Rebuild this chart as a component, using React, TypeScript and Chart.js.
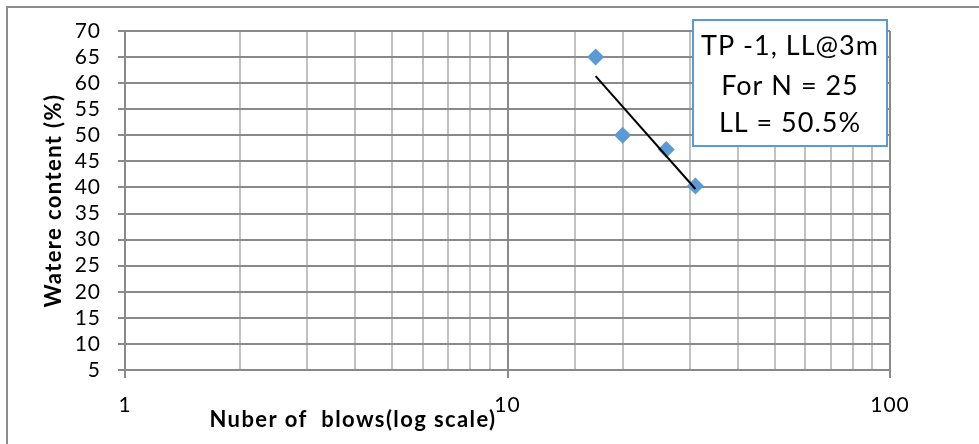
import React, { useEffect, useRef } from 'react';
import { Chart, registerables } from 'chart.js';

Chart.register(...registerables);

// Liquid limit test: number of blows vs. water content
const blows = [17, 20, 26, 31];
const waterContent = [65, 50, 47.3, 40.3];

// Axis ranges and labelled decades
const yMin = 5;
const yMax = 70;
const yStep = 5;
const xMin = 1;
const xMax = 100;
const xMajorLabels = [1, 10, 100];

const noteLines = ['TP -1, LL@3m', 'For N = 25', 'LL = 50.5%'];
const xTitle = 'Nuber of  blows(log scale)';
const yTitle = 'Watere content (%)';

const FONT = 'Lato, "Open Sans", sans-serif';
const MARKER = '#5B9BD5';
const GRID_DARK = '#8a8a8a';
const GRID_LIGHT = '#c2c2c2';

// Logarithmic least-squares trendline: y = a + b ln(x)
function logFit(xs: number[], ys: number[]) {
  const lx = xs.map((v) => Math.log(v));
  const n = xs.length;
  const mx = lx.reduce((s, v) => s + v, 0) / n;
  const my = ys.reduce((s, v) => s + v, 0) / n;
  let sxy = 0;
  let sxx = 0;
  for (let i = 0; i < n; i++) {
    sxy += (lx[i] - mx) * (ys[i] - my);
    sxx += (lx[i] - mx) * (lx[i] - mx);
  }
  const b = sxy / sxx;
  const a = my - b * mx;
  return (x: number) => a + b * Math.log(x);
}

const isDecade = (v: number) => Math.abs(Math.log10(v) - Math.round(Math.log10(v))) < 1e-9;

const decorPlugin = {
  id: 'decor',
  beforeDraw(chart: any) {
    const { ctx, width, height } = chart;
    ctx.save();
    ctx.fillStyle = '#ffffff';
    ctx.fillRect(0, 0, width, height);
    // chart frame (only its top and left edges fall inside the canvas)
    ctx.strokeStyle = '#8c8c8c';
    ctx.lineWidth = 2;
    ctx.beginPath();
    ctx.moveTo(7, height + 2);
    ctx.lineTo(7, 7);
    ctx.lineTo(width + 2, 7);
    ctx.stroke();
    ctx.restore();
    // slightly open tracking for the tick labels
    ctx.letterSpacing = '1px';
  },
  afterDraw(chart: any) {
    const { ctx, chartArea } = chart;
    ctx.save();

    // axis titles
    ctx.fillStyle = '#000';
    ctx.font = `bold 22px ${FONT}`;
    ctx.letterSpacing = '1.4px';
    ctx.textAlign = 'center';
    ctx.textBaseline = 'alphabetic';
    ctx.fillText(xTitle, chartArea.left + 228, 427);

    ctx.save();
    ctx.translate(61, (chartArea.top + chartArea.bottom) / 2);
    ctx.rotate(-Math.PI / 2);
    ctx.fillText(yTitle, 0, 0);
    ctx.restore();

    // annotation box
    const bx = chartArea.right - 197;
    const by = chartArea.top - 11;
    const bw = 194;
    const bh = 126;
    ctx.fillStyle = '#ffffff';
    ctx.fillRect(bx, by, bw, bh);
    ctx.strokeStyle = MARKER;
    ctx.lineWidth = 2;
    ctx.strokeRect(bx, by, bw, bh);
    ctx.fillStyle = '#000';
    ctx.font = `27px ${FONT}`;
    ctx.letterSpacing = '1px';
    ctx.textAlign = 'center';
    const baselines = [35, 75, 112];
    noteLines.forEach((t, i) => ctx.fillText(t, bx + bw / 2, by + baselines[i]));

    ctx.restore();
    ctx.letterSpacing = '0px';
  },
};

export default function App() {
  const canvasRef = useRef<HTMLCanvasElement | null>(null);

  useEffect(() => {
    document.body.style.margin = '0';
    const canvas = canvasRef.current;
    if (!canvas) return;

    const fit = logFit(blows, waterContent);
    const lo = Math.min(...blows);
    const hi = Math.max(...blows);
    const trend = [
      { x: lo, y: fit(lo) },
      { x: hi, y: fit(hi) },
    ];
    const points = blows.map((x, i) => ({ x, y: waterContent[i] }));

    const chart = new Chart(canvas, {
      type: 'scatter',
      data: {
        datasets: [
          {
            type: 'line',
            data: trend,
            borderColor: '#000',
            borderWidth: 2,
            pointRadius: 0,
            fill: false,
            order: 0,
          } as any,
          {
            type: 'scatter',
            data: points,
            pointStyle: 'rectRot',
            pointRadius: 8.5,
            pointHoverRadius: 8.5,
            backgroundColor: MARKER,
            borderWidth: 0,
            order: 1,
          } as any,
        ],
      },
      options: {
        responsive: false,
        animation: false,
        devicePixelRatio: 1,
        layout: { padding: { left: 0, top: 31, right: 89, bottom: 0 } },
        plugins: {
          legend: { display: false },
          tooltip: { enabled: false },
        },
        scales: {
          x: {
            type: 'logarithmic',
            position: 'bottom',
            min: xMin,
            max: xMax,
            afterFit: (s: any) => {
              s.height = 74;
            },
            ticks: {
              autoSkip: false,
              maxRotation: 0,
              padding: 15,
              color: '#000',
              font: { family: FONT, size: 21 },
              callback: (v: any) => (xMajorLabels.includes(Number(v)) ? String(v) : ''),
            },
            grid: {
              lineWidth: 2,
              color: (c: any) => (c.tick && isDecade(c.tick.value) ? GRID_DARK : GRID_LIGHT),
              tickColor: (c: any) => (c.tick && isDecade(c.tick.value) ? GRID_DARK : 'rgba(0,0,0,0)'),
              tickLength: 8,
            },
            border: { display: true, color: GRID_DARK, width: 2 },
          },
          y: {
            type: 'linear',
            min: yMin,
            max: yMax,
            afterFit: (s: any) => {
              s.width = 125;
            },
            ticks: {
              autoSkip: false,
              stepSize: yStep,
              padding: 17,
              color: '#000',
              font: { family: FONT, size: 21 },
            },
            grid: {
              lineWidth: 2,
              color: GRID_DARK,
              tickColor: GRID_DARK,
              tickLength: 7,
            },
            border: { display: true, color: GRID_DARK, width: 2 },
          },
        },
      },
      plugins: [decorPlugin],
    });

    return () => chart.destroy();
  }, []);

  return (
    <div style={{ width: 979, height: 444, position: 'relative' }}>
      <canvas ref={canvasRef} width={979} height={444} style={{ display: 'block' }} />
    </div>
  );
}
